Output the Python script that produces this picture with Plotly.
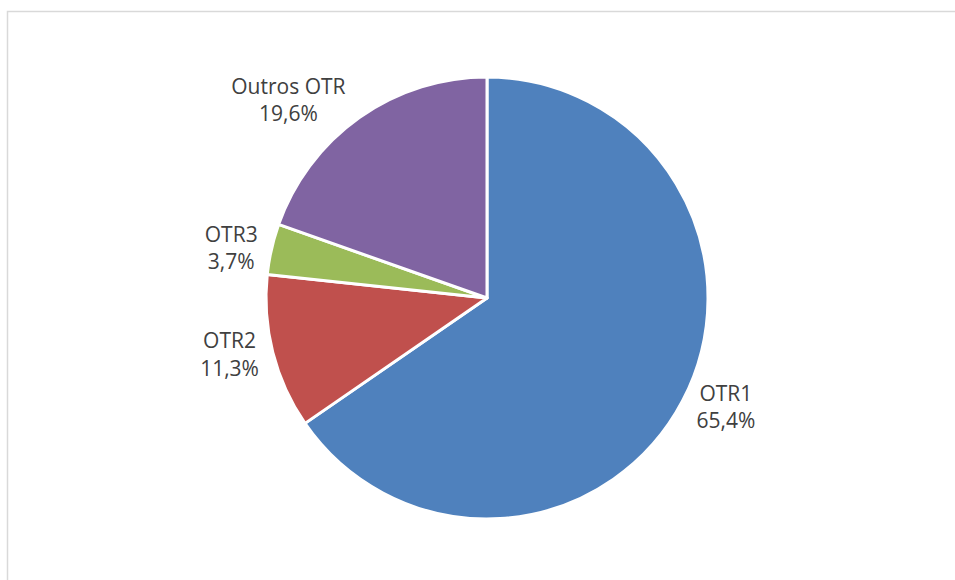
import plotly.graph_objects as go

labels = ["OTR1", "OTR2", "OTR3", "Outros OTR"]
values = [65.4, 11.3, 3.7, 19.6]
colors = ["#4F81BD", "#C0504D", "#9BBB59", "#8064A2"]

W, H = 955, 580
cx, cy, r = 487, 298, 221

fig = go.Figure(go.Pie(
    labels=labels,
    values=values,
    sort=False,
    direction="clockwise",
    rotation=0,
    marker=dict(colors=colors, line=dict(color="white", width=3)),
    textposition="outside",
    texttemplate="%{label}<br>%{percent:.1%}",
    textfont=dict(family="Open Sans, sans-serif", size=21, color="#404040"),
    showlegend=False,
    hoverinfo="label+percent",
    domain=dict(x=[(cx - r) / W, (cx + r) / W], y=[(H - cy - r) / H, (H - cy + r) / H]),
))

fig.update_layout(
    width=W, height=H,
    margin=dict(l=0, r=0, t=0, b=0),
    paper_bgcolor="white",
    separators=", ",
    shapes=[dict(type="rect", xref="paper", yref="paper",
                 x0=7.5 / W, x1=1.05, y0=-0.05, y1=(H - 11.5) / H,
                 line=dict(color="#D9D9D9", width=1.5), fillcolor="rgba(0,0,0,0)", layer="below")],
)

fig.write_html("out.html")
